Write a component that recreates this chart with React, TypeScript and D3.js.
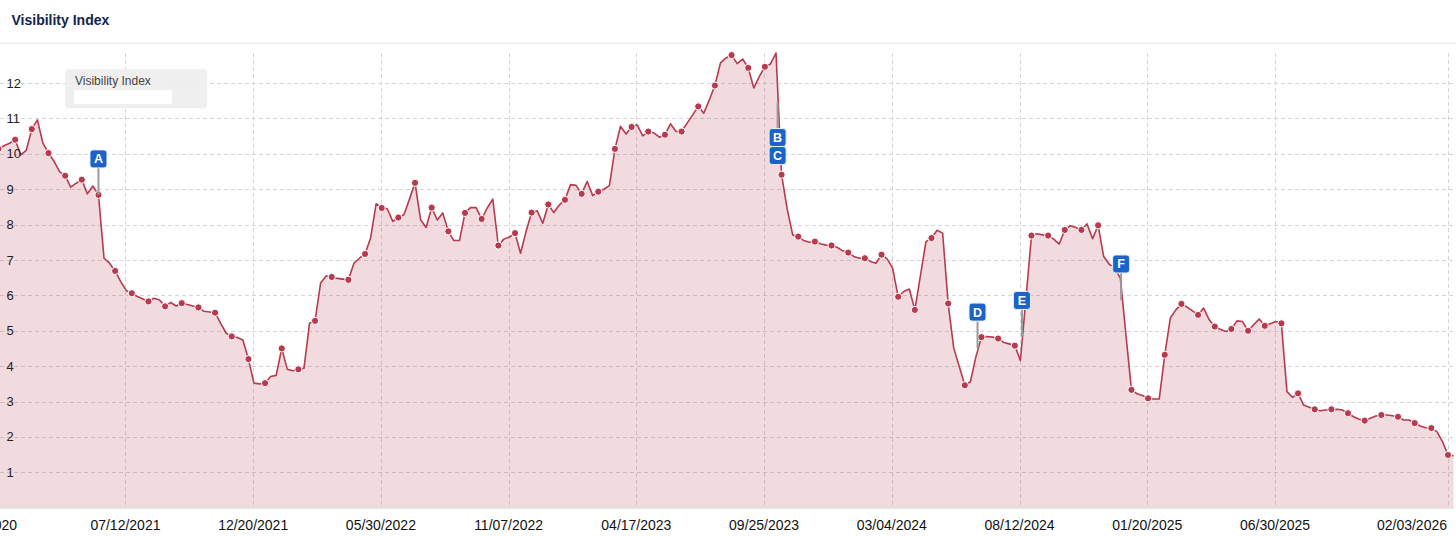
import React from 'react';
import * as d3 from 'd3';

// ---------- DATA ----------
const START_DATE = '2021-02-02'; // first weekly point (visible at the left edge)
const WEEK_DAYS = 7;

const VALUES: number[] = [
  10.14, 10.23, 10.3, 10.4, 9.97, 10.1, 10.7, 10.96, 10.3, 10.02,
  9.79, 9.5, 9.38, 9.06, 9.17, 9.27, 8.87, 9.09, 8.84, 7.05,
  6.91, 6.69, 6.39, 6.14, 6.06, 5.97, 5.9, 5.83, 5.92, 5.87,
  5.69, 5.8, 5.7, 5.78, 5.74, 5.7, 5.66, 5.55, 5.53, 5.51,
  5.21, 4.93, 4.84, 4.81, 4.74, 4.2, 3.52, 3.5, 3.52, 3.71,
  3.74, 4.5, 3.91, 3.87, 3.91, 3.94, 5.21, 5.28, 6.35, 6.55,
  6.52, 6.48, 6.46, 6.44, 6.91, 7.05, 7.17, 7.62, 8.59, 8.47,
  8.45, 8.09, 8.2, 8.28, 8.72, 9.18, 8.14, 7.92, 8.48, 8.13,
  8.33, 7.81, 7.55, 7.55, 8.33, 8.48, 8.48, 8.16, 8.47, 8.72,
  7.41, 7.59, 7.65, 7.76, 7.19, 7.81, 8.34, 8.39, 8.04, 8.57,
  8.34, 8.56, 8.7, 9.13, 9.11, 8.87, 9.22, 8.82, 8.93, 9.0,
  9.1, 10.14, 10.78, 10.56, 10.76, 10.82, 10.51, 10.63, 10.59, 10.47,
  10.54, 10.85, 10.63, 10.63, 10.87, 11.1, 11.34, 11.15, 11.53, 11.93,
  12.57, 12.71, 12.79, 12.55, 12.68, 12.43, 11.86, 12.19, 12.46, 12.54,
  12.85, 9.41, 8.45, 7.71, 7.66, 7.55, 7.5, 7.52, 7.46, 7.42,
  7.41, 7.36, 7.26, 7.21, 7.1, 7.05, 7.05, 6.96, 6.91, 7.15,
  7.03, 6.77, 5.96, 6.11, 6.18, 5.59, 6.55, 7.52, 7.62, 7.84,
  7.76, 5.77, 4.51, 3.99, 3.46, 3.56, 4.27, 4.82, 4.84, 4.82,
  4.78, 4.67, 4.63, 4.58, 4.16, 5.9, 7.69, 7.74, 7.71, 7.69,
  7.59, 7.45, 7.85, 7.97, 7.92, 7.85, 8.02, 7.6, 7.98, 7.1,
  6.88, 6.77, 6.49, 4.9, 3.33, 3.22, 3.17, 3.09, 3.07, 3.07,
  4.32, 5.36, 5.59, 5.76, 5.67, 5.56, 5.45, 5.64, 5.31, 5.12,
  5.04, 4.98, 5.05, 5.28, 5.26, 5.0, 5.17, 5.33, 5.14, 5.2,
  5.26, 5.21, 3.28, 3.12, 3.23, 2.9, 2.84, 2.78, 2.74, 2.76,
  2.78, 2.78, 2.76, 2.67, 2.57, 2.5, 2.46, 2.53, 2.59, 2.62,
  2.62, 2.6, 2.57, 2.48, 2.48, 2.39, 2.31, 2.26, 2.25, 2.15,
  1.87, 1.49, 1.47,
];

const MARKER_EVERY = 3; // a dot on every third weekly point

const X_TICK_DATES = [
  '2021-07-12', '2021-12-20', '2022-05-30', '2022-11-07', '2023-04-17',
  '2023-09-25', '2024-03-04', '2024-08-12', '2025-01-20', '2025-06-30', '2026-02-03',
];
const FIRST_LABEL = '12/28/2020';
const Y_TICKS = [1, 2, 3, 4, 5, 6, 7, 8, 9, 10, 11, 12];

const FLAGS = [
  { label: 'A', date: '2021-06-08', anchor: 8.84, side: 'above', stack: 0 },
  { label: 'B', date: '2023-10-12', anchor: 11.45, side: 'below', stack: 0 },
  { label: 'C', date: '2023-10-12', anchor: 11.45, side: 'below', stack: 1 },
  { label: 'D', date: '2024-06-20', anchor: 4.51, side: 'above', stack: 0 },
  { label: 'E', date: '2024-08-15', anchor: 4.84, side: 'above', stack: 0 },
  { label: 'F', date: '2024-12-18', anchor: 5.87, side: 'above', stack: 0 },
];

const TITLE = 'Visibility Index';
const SERIES_NAME = 'Visibility Index';

// ---------- LAYOUT ----------
const W = 1456;
const H = 536;
const PLOT_LEFT = 0;
const PLOT_RIGHT = 1454;
const PLOT_TOP = 53;
const PLOT_BOTTOM = 507.7;
const X_START_PX = -1.5;
const X_END_PX = 1448;

const FONT = '"Liberation Sans", Arial, Helvetica, sans-serif';
const LINE_COLOR = '#b83a4e';
const GRID_COLOR = '#d6d6d6';

export default function App() {
  const parse = d3.utcParse('%Y-%m-%d');
  const fmt = d3.utcFormat('%m/%d/%Y');
  const start = parse(START_DATE) as Date;
  const data = VALUES.map((v, i) => ({ date: d3.utcDay.offset(start, i * WEEK_DAYS), value: v, i }));
  const tickDates = X_TICK_DATES.map((d) => parse(d) as Date);
  const lastTick = tickDates[tickDates.length - 1];

  const x = d3.scaleUtc().domain([start, lastTick]).range([X_START_PX, X_END_PX]);
  const y = d3.scaleLinear().domain([0, d3.max(VALUES) as number]).range([PLOT_BOTTOM, PLOT_TOP]);

  const area = d3
    .area<{ date: Date; value: number }>()
    .x((d) => x(d.date))
    .y0(y(0))
    .y1((d) => y(d.value));
  const line = d3
    .line<{ date: Date; value: number }>()
    .x((d) => x(d.date))
    .y((d) => y(d.value));

  const markers = data.filter((d) => d.i % MARKER_EVERY === 0);

  const FLAG_W = 17;
  const FLAG_H = 18;
  const STEM = 27;

  return (
    <svg
      width={W}
      height={H}
      style={{ position: 'absolute', left: 0, top: 0, background: '#fff', fontFamily: FONT }}
    >
      <defs>
        <clipPath id="plotClip">
          <rect x={PLOT_LEFT} y={0} width={PLOT_RIGHT - PLOT_LEFT} height={PLOT_BOTTOM + 1} />
        </clipPath>
      </defs>

      {/* Header */}
      <rect x={0} y={0} width={W} height={H} fill="#fff" />
      <text x={11.5} y={25} fontSize={14} fontWeight="bold" fill="#12244d">
        {TITLE}
      </text>
      <rect x={0} y={42.5} width={W} height={1.5} fill="#ececec" />

      {/* Grid */}
      <g>
        {Y_TICKS.map((t) => (
          <line
            key={'hy' + t}
            x1={PLOT_LEFT}
            x2={PLOT_RIGHT}
            y1={Math.round(y(t)) + 0.5}
            y2={Math.round(y(t)) + 0.5}
            stroke={GRID_COLOR}
            strokeDasharray="4,3"
          />
        ))}
        {tickDates.map((d, k) => (
          <line
            key={'vx' + k}
            x1={Math.round(x(d)) + 0.5}
            x2={Math.round(x(d)) + 0.5}
            y1={PLOT_TOP}
            y2={PLOT_BOTTOM}
            stroke={GRID_COLOR}
            strokeDasharray="4,3"
          />
        ))}
      </g>

      {/* Series */}
      <g clipPath="url(#plotClip)">
        <path d={area(data) || ''} fill="rgba(184,58,78,0.18)" />
        <path d={line(data) || ''} fill="none" stroke={LINE_COLOR} strokeWidth={1.6} strokeLinejoin="round" />
        {markers.map((d) => (
          <circle key={'m' + d.i} cx={x(d.date)} cy={y(d.value)} r={3.6} fill={LINE_COLOR} stroke="#fff" strokeWidth={1} />
        ))}
      </g>

      {/* Bottom axis line */}
      <line x1={PLOT_LEFT} x2={PLOT_RIGHT} y1={PLOT_BOTTOM + 0.3} y2={PLOT_BOTTOM + 0.3} stroke="#d9d0d2" strokeWidth={1} />

      {/* Y labels */}
      {Y_TICKS.map((t) => (
        <text key={'yl' + t} x={6.5} y={y(t) + 4.5} fontSize={13} fill="#222">
          {t}
        </text>
      ))}

      {/* X labels */}
      <text x={17} y={529.5} fontSize={14} fill="#111" textAnchor="end">
        {FIRST_LABEL}
      </text>
      {tickDates.map((d, k) => {
        const isLast = k === tickDates.length - 1;
        return (
          <text
            key={'xl' + k}
            x={x(d) + (isLast ? -1 : 0)}
            y={529.5}
            fontSize={14}
            fill="#111"
            textAnchor={isLast ? 'end' : 'middle'}
          >
            {fmt(d)}
          </text>
        );
      })}

      {/* Flags */}
      {FLAGS.map((f) => {
        const fx = x(parse(f.date) as Date);
        const ay = y(f.anchor);
        let top: number;
        let stemY1: number;
        let stemY2: number;
        if (f.side === 'above') {
          top = ay - STEM - FLAG_H - f.stack * FLAG_H;
          stemY1 = top + FLAG_H;
          stemY2 = ay;
        } else {
          top = ay + STEM - 1 + f.stack * FLAG_H;
          stemY1 = ay;
          stemY2 = ay + STEM;
        }
        return (
          <g key={'f' + f.label}>
            {f.stack === 0 && (
              <line x1={fx} x2={fx} y1={stemY1} y2={stemY2} stroke="#9a9a9a" strokeWidth={2} />
            )}
            <rect
              x={fx - FLAG_W / 2}
              y={top}
              width={FLAG_W}
              height={FLAG_H}
              rx={3}
              ry={3}
              fill="#1b63c8"
              stroke="#e8eef8"
              strokeWidth={1}
            />
            <text x={fx} y={top + 13.5} textAnchor="middle" fontSize={12.5} fontWeight="bold" fill="#fff">
              {f.label}
            </text>
          </g>
        );
      })}

      {/* Legend */}
      <rect x={65} y={69.3} width={142.3} height={39} rx={4} ry={4} fill="#eeeeee" fillOpacity={0.92} />
      <text x={75} y={85} fontSize={12} fill="#444">
        {SERIES_NAME}
      </text>
      <rect x={74} y={90} width={98} height={14} fill="#fff" />
    </svg>
  );
}
